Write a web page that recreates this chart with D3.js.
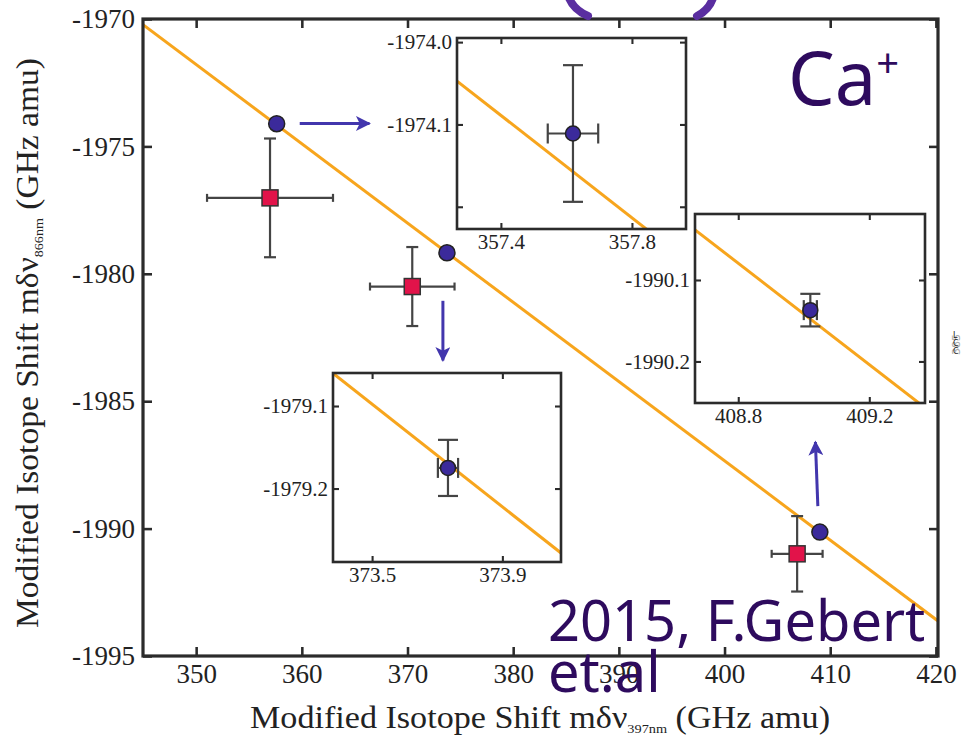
<!DOCTYPE html>
<html>
<head>
<meta charset="utf-8">
<script src="https://cdn.jsdelivr.net/npm/d3@7"></script>
<style>
	body { margin: 0; background: #fff; }
	svg { display: block; }
</style>
</head>
<body>
<script>
// main panel
var xTicks = [350, 360, 370, 380, 390, 400, 410, 420];
var yTicks = [-1970, -1975, -1980, -1985, -1990, -1995];

// fit line (two ends)
var fitX = [344.97, 420.2];
var fitY = [-1970.222, -1993.626];

// red squares (other measurement) with errors
var redX = [356.99, 370.45, 406.87];
var redY = [-1977.02, -1980.50, -1990.99];
var redErrX = [5.96, 4.0, 2.41];
var redErrY = [2.33, 1.55, 1.48];

// blue circles with errors (errors only visible in the zooms)
var blueX = [357.62, 373.733, 409.02];
var blueY = [-1974.111, -1979.175, -1990.137];
var blueErrX = [0.077, 0.031, 0.02];
var blueErrY = [0.083, 0.034, 0.02];

// zoom panels: domains and ticks
var zoomXDomains = [[357.266, 357.965], [373.38, 374.08], [408.668, 409.37]];
var zoomYDomains = [[-1973.995, -1974.227], [-1979.06, -1979.289], [-1990.019, -1990.251]];
var zoomXTicks = [[357.4, 357.8], [373.5, 373.9], [408.8, 409.2]];
var zoomYTicks = [[-1974.0, -1974.1, -1974.2], [-1979.1, -1979.2], [-1990.1, -1990.2]];
var zoomYLabels = [["-1974.0", "-1974.1", ""], ["-1979.1", "-1979.2"], ["-1990.1", "-1990.2"]];

// arrows in main data units [x1, y1, x2, y2]
var arrows = [
	[359.8, -1974.1, 366.4, -1974.1],
	[373.35, -1981.06, 373.35, -1983.4],
	[408.83, -1989.12, 408.6, -1986.6]
];

var W = 963, H = 735;
var orange = "#f7a51d", frameCol = "#2b2b2b", errCol = "#444";
var serif = "'Liberation Serif', 'Times New Roman', serif";

var svg = d3.select("body").append("svg")
			.attr("width", W)
			.attr("height", H);

var defs = svg.append("defs");
defs.append("marker")
		.attr("id", "head")
		.attr("viewBox", "0 0 10 10")
		.attr("refX", 9).attr("refY", 5)
		.attr("markerWidth", 6).attr("markerHeight", 5)
		.attr("markerUnits", "strokeWidth")
		.attr("orient", "auto")
	.append("path")
		.attr("d", "M0,0 L10,5 L0,10 L2.5,5 Z")
		.attr("fill", "#4236ad");

function panel(id, xDom, xRange, yDom, yRange) {
	var x = d3.scaleLinear().domain(xDom).range(xRange);
	var y = d3.scaleLinear().domain(yDom).range(yRange);
	defs.append("clipPath").attr("id", id)
		.append("rect")
			.attr("x", xRange[0]).attr("y", yRange[0])
			.attr("width", xRange[1] - xRange[0])
			.attr("height", yRange[1] - yRange[0]);
	return { x: x, y: y, clip: "url(#" + id + ")" };
}

function drawFit(g, p, w) {
	var pts = fitX.map(function(d, i){ return [d, fitY[i]]; });
	g.append("path")
		.datum(pts)
		.attr("clip-path", p.clip)
		.attr("fill", "none")
		.attr("stroke", orange)
		.attr("stroke-width", w)
		.attr("d", d3.line().x(function(d){ return p.x(d[0]); }).y(function(d){ return p.y(d[1]); }));
}

function drawErr(g, p, xs, ys, exs, eys, capH, capV) {
	var eg = g.append("g").attr("stroke", errCol).attr("stroke-width", 2.2);
	xs.forEach(function(d, i){
		var cx = p.x(d), cy = p.y(ys[i]);
		var x1 = p.x(d - exs[i]), x2 = p.x(d + exs[i]);
		var y1 = p.y(ys[i] + eys[i]), y2 = p.y(ys[i] - eys[i]);
		eg.append("line").attr("x1", x1).attr("x2", x2).attr("y1", cy).attr("y2", cy);
		eg.append("line").attr("x1", cx).attr("x2", cx).attr("y1", y1).attr("y2", y2);
		eg.append("line").attr("x1", x1).attr("x2", x1).attr("y1", cy - capV).attr("y2", cy + capV);
		eg.append("line").attr("x1", x2).attr("x2", x2).attr("y1", cy - capV).attr("y2", cy + capV);
		eg.append("line").attr("x1", cx - capH).attr("x2", cx + capH).attr("y1", y1).attr("y2", y1);
		eg.append("line").attr("x1", cx - capH).attr("x2", cx + capH).attr("y1", y2).attr("y2", y2);
	});
}

function drawFrame(g, p, xt, yt, xlab, ylab, fs, tl, sw, pad) {
	var xr = p.x.range(), yr = p.y.range();
	var left = d3.axisLeft(p.y).tickValues(yt).tickSizeInner(-tl).tickSizeOuter(0).tickPadding(pad)
				.tickFormat(function(d, i){ return ylab[i]; });
	var right = d3.axisRight(p.y).tickValues(yt).tickSizeInner(-tl).tickSizeOuter(0).tickFormat("");
	var bottom = d3.axisBottom(p.x).tickValues(xt).tickSizeInner(-tl).tickSizeOuter(0).tickPadding(pad)
				.tickFormat(function(d, i){ return xlab[i]; });
	var top = d3.axisTop(p.x).tickValues(xt).tickSizeInner(-tl).tickSizeOuter(0).tickFormat("");

	g.append("rect")
		.attr("x", xr[0]).attr("y", yr[0])
		.attr("width", xr[1] - xr[0]).attr("height", yr[1] - yr[0])
		.attr("fill", "none").attr("stroke", frameCol).attr("stroke-width", sw);

	[[left, "translate(" + xr[0] + ",0)"], [right, "translate(" + xr[1] + ",0)"],
	 [bottom, "translate(0," + yr[1] + ")"], [top, "translate(0," + yr[0] + ")"]].forEach(function(a){
		var ag = g.append("g").attr("transform", a[1]).call(a[0])
				.attr("font-family", serif)
				.attr("font-size", fs);
		ag.select(".domain").remove();
		ag.selectAll(".tick line").attr("stroke", frameCol).attr("stroke-width", sw * 0.8);
		ag.selectAll(".tick text").attr("fill", "#222");
	});
	return g;
}

// ---- main plot
var main = panel("clipMain", [344.97, 420.2], [143, 938], [-1970, -1995], [19, 656]);
var gm = svg.append("g");
drawFit(gm, main, 3);
drawErr(gm, main, redX, redY, redErrX, redErrY, 6, 4);

gm.selectAll("rect.red")
	.data(redX)
	.enter().append("rect")
		.attr("class", "red")
		.attr("x", function(d){ return main.x(d) - 8; })
		.attr("y", function(d, i){ return main.y(redY[i]) - 8; })
		.attr("width", 16).attr("height", 16)
		.attr("fill", "#e2134a")
		.attr("stroke", "#333")
		.attr("stroke-width", 1.5);

gm.selectAll("circle.blue")
	.data(blueX)
	.enter().append("circle")
		.attr("class", "blue")
		.attr("cx", function(d){ return main.x(d); })
		.attr("cy", function(d, i){ return main.y(blueY[i]); })
		.attr("r", 8)
		.attr("fill", "#3b2a9b")
		.attr("stroke", "#222")
		.attr("stroke-width", 1.5);

drawFrame(svg.append("g"), main, xTicks, yTicks,
	xTicks.map(String), yTicks.map(String), 27, 9, 3.2, 8);

// arrows
svg.selectAll("line.arrow")
	.data(arrows)
	.enter().append("line")
		.attr("class", "arrow")
		.attr("x1", function(d){ return main.x(d[0]); })
		.attr("y1", function(d){ return main.y(d[1]); })
		.attr("x2", function(d){ return main.x(d[2]); })
		.attr("y2", function(d){ return main.y(d[3]); })
		.attr("stroke", "#4236ad")
		.attr("stroke-width", 3)
		.attr("marker-end", "url(#head)");

// ---- zoom panels
var zoomBoxes = [
	[[457, 686], [38, 229]],
	[[333, 561], [373, 562]],
	[[695, 925], [214, 403]]
];
zoomBoxes.forEach(function(b, k){
	var p = panel("clipZoom" + k, zoomXDomains[k], b[0], zoomYDomains[k], b[1]);
	var g = svg.append("g");
	g.append("rect")
		.attr("x", b[0][0]).attr("y", b[1][0])
		.attr("width", b[0][1] - b[0][0]).attr("height", b[1][1] - b[1][0])
		.attr("fill", "#fff");
	drawFit(g, p, 3);
	drawErr(g, p, [blueX[k]], [blueY[k]], [blueErrX[k]], [blueErrY[k]], 10, 10);
	g.append("circle")
		.attr("cx", p.x(blueX[k]))
		.attr("cy", p.y(blueY[k]))
		.attr("r", 7.5)
		.attr("fill", "#3b2a9b")
		.attr("stroke", "#222")
		.attr("stroke-width", 1.5);
	drawFrame(g, p, zoomXTicks[k], zoomYTicks[k],
		zoomXTicks[k].map(function(d){ return d.toFixed(1); }), zoomYLabels[k], 21, 6, 2.6, 5);
});

// ---- axis titles
var xt = svg.append("text")
	.attr("x", 540).attr("y", 728)
	.attr("text-anchor", "middle")
	.attr("font-family", serif)
	.attr("font-size", 31)
	.attr("textLength", 580)
	.attr("lengthAdjust", "spacingAndGlyphs")
	.attr("fill", "#222");
xt.append("tspan").text("Modified Isotope Shift m\u03b4\u03bd");
xt.append("tspan").text("397nm").attr("font-size", 13).attr("dy", 5);
xt.append("tspan").text(" (GHz amu)").attr("dy", -5);

var yt = svg.append("text")
	.attr("transform", "translate(38,343) rotate(-90)")
	.attr("text-anchor", "middle")
	.attr("font-family", serif)
	.attr("font-size", 31)
	.attr("textLength", 570)
	.attr("lengthAdjust", "spacingAndGlyphs")
	.attr("fill", "#222");
yt.append("tspan").text("Modified Isotope Shift m\u03b4\u03bd");
yt.append("tspan").text("866nm").attr("font-size", 13).attr("dy", 5);
yt.append("tspan").text(" (GHz amu)").attr("dy", -5);

// ---- overlay notes
var ca = svg.append("text")
	.attr("x", 788).attr("y", 105)
	.attr("font-family", "Noto Sans, sans-serif")
	.attr("font-size", 74)
	.attr("fill", "#2e0b5e");
ca.append("tspan").text("Ca");
ca.append("tspan").text("+").attr("font-size", 40).attr("dy", -28);

svg.append("text")
	.attr("x", 548).attr("y", 641)
	.attr("font-family", "Noto Sans, sans-serif")
	.attr("font-size", 56)
	.attr("fill", "#2e0b5e")
	.text("2015, F.Gebert");
svg.append("text")
	.attr("x", 548).attr("y", 692)
	.attr("font-family", "Noto Sans, sans-serif")
	.attr("font-size", 56)
	.attr("fill", "#2e0b5e")
	.text("et.al");

// cut-off purple marks at the top edge
svg.append("path")
	.attr("d", "M569,-2 Q574,10 588,16 M713,-2 Q709,10 697,16")
	.attr("fill", "none")
	.attr("stroke", "#5a2ea0")
	.attr("stroke-width", 8)
	.attr("stroke-linecap", "round");

// cut-off scraps at the right edge
svg.append("text")
	.attr("transform", "translate(960,355) rotate(-90)")
	.attr("font-family", "DejaVu Sans, sans-serif")
	.attr("font-size", 11)
	.attr("fill", "#aaa")
	.text("385");
["L", "C", "C"].forEach(function(s, i){
	svg.append("text")
		.attr("x", 953).attr("y", 338 + i * 8)
		.attr("font-family", "DejaVu Sans, sans-serif")
		.attr("font-size", 8)
		.attr("fill", "#222")
		.text(s);
});
</script>
</body>
</html>
